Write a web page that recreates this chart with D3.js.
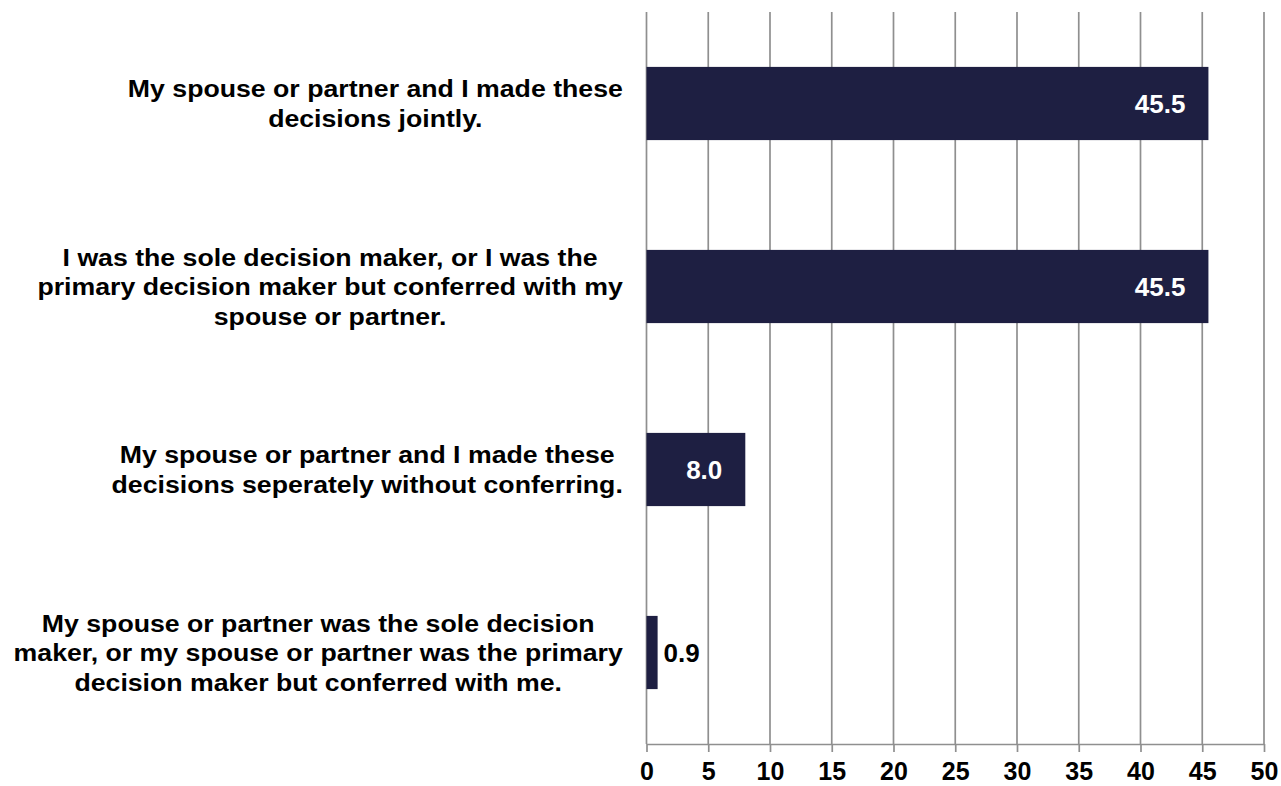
<!DOCTYPE html>
<html>
<head>
<meta charset="utf-8">
<script src="https://cdn.jsdelivr.net/npm/d3@7"></script>
<style>
  html, body { margin: 0; padding: 0; background: #fff; }
  svg { display: block; font-family: "Liberation Sans", Arial, sans-serif; }
</style>
</head>
<body>
<svg id="chart" width="1281" height="786"></svg>
<script>
// Survey responses: who made the decisions (percent of respondents)
const categories = [
  ["My spouse or partner and I made these", "decisions jointly."],
  ["I was the sole decision maker, or I was the", "primary decision maker but conferred with my", "spouse or partner."],
  ["My spouse or partner and I made these", "decisions seperately without conferring."],
  ["My spouse or partner was the sole decision", "maker, or my spouse or partner was the primary", "decision maker but conferred with me."]
];
const values = [45.5, 45.5, 8.0, 0.9];
const xTicks = [0, 5, 10, 15, 20, 25, 30, 35, 40, 45, 50];

const svg = d3.select("#chart");
const plot = { left: 646.5, right: 1264, top: 12, bottom: 744 };
const barColor = "#1e1f42";
const gridColor = "#8f8f8f";

const x = d3.scaleLinear().domain([0, 50]).range([plot.left, plot.right]);
const y = d3.scaleBand()
  .domain(d3.range(categories.length))
  .range([plot.top, plot.bottom])
  .paddingInner(0.6)
  .paddingOuter(0.3);

// Vertical gridlines
svg.append("g")
  .selectAll("line")
  .data(xTicks)
  .join("line")
  .attr("x1", d => x(d)).attr("x2", d => x(d))
  .attr("y1", plot.top).attr("y2", plot.bottom)
  .attr("stroke", gridColor).attr("stroke-width", 1.7);

// Bottom axis
const axis = svg.append("g")
  .attr("transform", `translate(0,${plot.bottom})`)
  .call(d3.axisBottom(x).tickValues(xTicks).tickSize(8).tickSizeOuter(0).tickPadding(10));
axis.select(".domain").attr("stroke", gridColor).attr("stroke-width", 1.7);
axis.selectAll(".tick line").attr("stroke", gridColor).attr("stroke-width", 1.7);
axis.selectAll(".tick text")
  .attr("fill", "#000")
  .style("font-size", "25px")
  .style("font-weight", "bold")
  .style("font-family", "'Liberation Sans', Arial, sans-serif");

// Bars
svg.append("g")
  .selectAll("rect")
  .data(values)
  .join("rect")
  .attr("x", x(0))
  .attr("y", (d, i) => y(i))
  .attr("width", d => x(d) - x(0))
  .attr("height", y.bandwidth())
  .attr("fill", barColor);

// Value labels: inside the bar end when there is room, otherwise just outside
svg.append("g")
  .selectAll("text")
  .data(values)
  .join("text")
  .attr("x", d => d > 3 ? x(d) - 23 : x(d) + 6)
  .attr("y", (d, i) => y(i) + y.bandwidth() / 2)
  .attr("dy", "0.36em")
  .attr("text-anchor", d => d > 3 ? "end" : "start")
  .attr("fill", d => d > 3 ? "#fff" : "#000")
  .style("font-size", "26px")
  .style("font-weight", "bold")
  .text(d => d.toFixed(1));

// Category labels: centred lines, block right-aligned against the plot
const labelRight = 623;
const lineH = 29.5;
const stretch = 1.112;
const labels = svg.append("g")
  .selectAll("g")
  .data(categories)
  .join("g");

labels.each(function(lines, i) {
  const g = d3.select(this);
  const cy = y(i) + y.bandwidth() / 2;
  const texts = g.selectAll("text")
    .data(lines)
    .join("text")
    .attr("dy", "0.36em")
    .attr("text-anchor", "middle")
    .attr("fill", "#000")
    .style("font-size", "24px")
    .style("font-weight", "bold")
    .text(d => d);
  let maxW = 0;
  texts.each(function() { maxW = Math.max(maxW, this.getComputedTextLength() * stretch); });
  const cx = labelRight - maxW / 2;
  texts.attr("transform", (d, k) =>
    `translate(${cx},${cy - (lines.length - 1) * lineH / 2 + k * lineH}) scale(${stretch},1)`);
});
</script>
</body>
</html>
